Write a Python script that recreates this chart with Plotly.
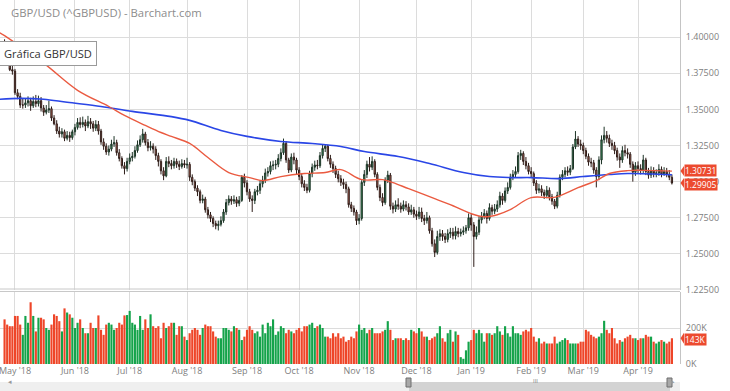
import pandas as pd
import plotly.graph_objects as go

# ---------------- data ----------------
first_open = 1.3960
close = [
    1.3935, 1.3925, 1.3775, 1.3765, 1.3615, 1.3590, 1.3530, 1.3530, 1.3545, 1.3560,
    1.3525, 1.3555, 1.3540, 1.3560, 1.3510, 1.3480, 1.3495, 1.3505, 1.3440, 1.3400,
    1.3350, 1.3330, 1.3345, 1.3300, 1.3320, 1.3305, 1.3345, 1.3375, 1.3410, 1.3395,
    1.3410, 1.3385, 1.3415, 1.3400, 1.3370, 1.3395, 1.3350, 1.3275, 1.3245, 1.3205,
    1.3225, 1.3260, 1.3270, 1.3200, 1.3160, 1.3110, 1.3090, 1.3140, 1.3165, 1.3175,
    1.3215, 1.3255, 1.3290, 1.3330, 1.3270, 1.3235, 1.3245, 1.3225, 1.3180, 1.3140,
    1.3075, 1.3040, 1.3140, 1.3125, 1.3110, 1.3140, 1.3120, 1.3105, 1.3125, 1.3115,
    1.3120, 1.3030, 1.3000, 1.2955, 1.2930, 1.2870, 1.2880, 1.2805, 1.2770, 1.2745,
    1.2710, 1.2695, 1.2705, 1.2730, 1.2790, 1.2855, 1.2880, 1.2865, 1.2875, 1.2850,
    1.2870, 1.3030, 1.2990, 1.2930, 1.2880, 1.2870, 1.2930, 1.2940, 1.2985, 1.3010,
    1.3060, 1.3070, 1.3110, 1.3115, 1.3120, 1.3160, 1.3200, 1.3265, 1.3150, 1.3080,
    1.3170, 1.3150, 1.3080, 1.3035, 1.2985, 1.2960, 1.2940, 1.3055, 1.3100, 1.3115,
    1.3110, 1.3180, 1.3230, 1.3245, 1.3160, 1.3120, 1.3090, 1.3050, 1.3020, 1.2995,
    1.2980, 1.2950, 1.2840, 1.2815, 1.2790, 1.2730, 1.2745, 1.2995, 1.3050, 1.3120,
    1.3100, 1.3140, 1.3050, 1.2960, 1.2890, 1.2855, 1.3010, 1.3045, 1.2830, 1.2810,
    1.2840, 1.2830, 1.2810, 1.2840, 1.2825, 1.2790, 1.2805, 1.2775, 1.2760, 1.2790,
    1.2745, 1.2730, 1.2750, 1.2660, 1.2570, 1.2510, 1.2620, 1.2640, 1.2620, 1.2600,
    1.2640, 1.2650, 1.2625, 1.2655, 1.2640, 1.2650, 1.2660, 1.2680, 1.2750, 1.2700,
    1.2620, 1.2650, 1.2735, 1.2760, 1.2780, 1.2745, 1.2820, 1.2795, 1.2810, 1.2840,
    1.2900, 1.2870, 1.2935, 1.2960, 1.3030, 1.3050, 1.3070, 1.3180, 1.3195, 1.3140,
    1.3110, 1.3070, 1.3055, 1.2990, 1.2940, 1.2950, 1.2925, 1.2905, 1.2940, 1.2895,
    1.2865, 1.2830, 1.2905, 1.3030, 1.3050, 1.3075, 1.3065, 1.3090, 1.3240, 1.3295,
    1.3260, 1.3250, 1.3215, 1.3175, 1.3135, 1.3130, 1.3080, 1.3035, 1.3150, 1.3290,
    1.3320, 1.3300, 1.3265, 1.3250, 1.3215, 1.3170, 1.3150, 1.3215, 1.3200, 1.3190,
    1.3120, 1.3065, 1.3110, 1.3090, 1.3080, 1.3150, 1.3070, 1.3045, 1.3075, 1.3055,
    1.3060, 1.3085, 1.3050, 1.3070, 1.3050, 1.3030, 1.29905,
]
high = [
    1.3985, 1.3960, 1.3935, 1.3800, 1.3780, 1.3640, 1.3615, 1.3575, 1.3575, 1.3590,
    1.3580, 1.3590, 1.3600, 1.3595, 1.3585, 1.3530, 1.3530, 1.3560, 1.3520, 1.3460,
    1.3425, 1.3380, 1.3370, 1.3360, 1.3350, 1.3345, 1.3360, 1.3400, 1.3440, 1.3445,
    1.3450, 1.3430, 1.3455, 1.3440, 1.3420, 1.3425, 1.3420, 1.3365, 1.3300, 1.3265,
    1.3250, 1.3290, 1.3315, 1.3290, 1.3225, 1.3175, 1.3135, 1.3165, 1.3195, 1.3205,
    1.3245, 1.3285, 1.3320, 1.3365, 1.3345, 1.3295, 1.3280, 1.3265, 1.3245, 1.3200,
    1.3155, 1.3100, 1.3170, 1.3175, 1.3150, 1.3165, 1.3160, 1.3145, 1.3155, 1.3150,
    1.3165, 1.3135, 1.3050, 1.3015, 1.2975, 1.2945, 1.2910, 1.2895, 1.2825, 1.2790,
    1.2760, 1.2730, 1.2730, 1.2760, 1.2810, 1.2880, 1.2905, 1.2900, 1.2905, 1.2895,
    1.2900, 1.3045, 1.3055, 1.3010, 1.2950, 1.2905, 1.2950, 1.2970, 1.3010, 1.3040,
    1.3090, 1.3100, 1.3140, 1.3145, 1.3150, 1.3190, 1.3230, 1.3298, 1.3280, 1.3165,
    1.3195, 1.3200, 1.3165, 1.3100, 1.3060, 1.3010, 1.2985, 1.3075, 1.3125, 1.3145,
    1.3150, 1.3205, 1.3255, 1.3260, 1.3255, 1.3185, 1.3140, 1.3110, 1.3075, 1.3045,
    1.3020, 1.3000, 1.2965, 1.2860, 1.2835, 1.2805, 1.2775, 1.3010, 1.3080, 1.3145,
    1.3170, 1.3175, 1.3155, 1.3065, 1.2980, 1.2920, 1.3030, 1.3075, 1.3060, 1.2855,
    1.2870, 1.2885, 1.2855, 1.2870, 1.2865, 1.2850, 1.2840, 1.2825, 1.2800, 1.2825,
    1.2820, 1.2770, 1.2790, 1.2765, 1.2680, 1.2600, 1.2660, 1.2670, 1.2665, 1.2645,
    1.2670, 1.2680, 1.2680, 1.2690, 1.2680, 1.2675, 1.2690, 1.2700, 1.2780, 1.2775,
    1.2720, 1.2690, 1.2760, 1.2790, 1.2810, 1.2800, 1.2850, 1.2840, 1.2845, 1.2870,
    1.2930, 1.2920, 1.2960, 1.2995, 1.3055, 1.3080, 1.3105, 1.3205, 1.3220, 1.3210,
    1.3170, 1.3130, 1.3100, 1.3070, 1.3010, 1.2985, 1.2975, 1.2945, 1.2970, 1.2960,
    1.2915, 1.2880, 1.2930, 1.3050, 1.3080, 1.3100, 1.3105, 1.3115, 1.3260, 1.3350,
    1.3315, 1.3290, 1.3270, 1.3235, 1.3195, 1.3165, 1.3150, 1.3100, 1.3175, 1.3320,
    1.3380, 1.3350, 1.3325, 1.3290, 1.3275, 1.3235, 1.3195, 1.3245, 1.3255, 1.3230,
    1.3205, 1.3140, 1.3135, 1.3140, 1.3120, 1.3185, 1.3165, 1.3095, 1.3105, 1.3100,
    1.3085, 1.3120, 1.3105, 1.3100, 1.3095, 1.3080, 1.3050,
]
low = [
    1.3915, 1.3900, 1.3765, 1.3740, 1.3600, 1.3570, 1.3510, 1.3505, 1.3510, 1.3520,
    1.3490, 1.3510, 1.3515, 1.3520, 1.3485, 1.3455, 1.3465, 1.3475, 1.3420, 1.3390,
    1.3330, 1.3305, 1.3305, 1.3280, 1.3285, 1.3275, 1.3290, 1.3320, 1.3360, 1.3370,
    1.3375, 1.3350, 1.3370, 1.3365, 1.3345, 1.3350, 1.3325, 1.3255, 1.3220, 1.3185,
    1.3180, 1.3210, 1.3240, 1.3180, 1.3140, 1.3090, 1.3050, 1.3070, 1.3120, 1.3140,
    1.3160, 1.3200, 1.3240, 1.3270, 1.3250, 1.3210, 1.3215, 1.3195, 1.3150, 1.3105,
    1.3050, 1.3010, 1.3030, 1.3100, 1.3085, 1.3090, 1.3095, 1.3080, 1.3090, 1.3095,
    1.3090, 1.3005, 1.2975, 1.2935, 1.2900, 1.2850, 1.2850, 1.2785, 1.2745, 1.2720,
    1.2685, 1.2670, 1.2662, 1.2690, 1.2715, 1.2770, 1.2835, 1.2840, 1.2845, 1.2825,
    1.2830, 1.2860, 1.2960, 1.2905, 1.2860, 1.2790, 1.2845, 1.2905, 1.2915, 1.2960,
    1.2990, 1.3035, 1.3050, 1.3080, 1.3085, 1.3100, 1.3140, 1.3185, 1.3130, 1.3060,
    1.3065, 1.3120, 1.3050, 1.3010, 1.2960, 1.2935, 1.2920, 1.2925, 1.3030, 1.3075,
    1.3085, 1.3095, 1.3160, 1.3205, 1.3140, 1.3095, 1.3060, 1.3025, 1.2995, 1.2970,
    1.2950, 1.2920, 1.2820, 1.2790, 1.2765, 1.2700, 1.2705, 1.2730, 1.2970, 1.3025,
    1.3070, 1.3080, 1.3030, 1.2940, 1.2865, 1.2830, 1.2840, 1.2990, 1.2805, 1.2780,
    1.2790, 1.2805, 1.2785, 1.2795, 1.2800, 1.2770, 1.2770, 1.2750, 1.2735, 1.2740,
    1.2720, 1.2700, 1.2710, 1.2640, 1.2550, 1.2478, 1.2495, 1.2590, 1.2590, 1.2575,
    1.2580, 1.2610, 1.2600, 1.2600, 1.2615, 1.2620, 1.2630, 1.2640, 1.2660, 1.2660,
    1.2410, 1.2600, 1.2630, 1.2710, 1.2740, 1.2710, 1.2730, 1.2770, 1.2775, 1.2790,
    1.2820, 1.2840, 1.2855, 1.2915, 1.2945, 1.3010, 1.3030, 1.3055, 1.3150, 1.3115,
    1.3085, 1.3050, 1.3030, 1.2970, 1.2915, 1.2920, 1.2900, 1.2880, 1.2885, 1.2870,
    1.2840, 1.2810, 1.2815, 1.2890, 1.3010, 1.3030, 1.3040, 1.3045, 1.3080, 1.3225,
    1.3240, 1.3220, 1.3190, 1.3155, 1.3110, 1.3100, 1.3055, 1.2960, 1.3010, 1.3120,
    1.3265, 1.3270, 1.3240, 1.3220, 1.3190, 1.3145, 1.3095, 1.3130, 1.3175, 1.3160,
    1.3095, 1.3000, 1.3040, 1.3060, 1.3050, 1.3060, 1.3045, 1.3020, 1.3025, 1.3030,
    1.3030, 1.3040, 1.3030, 1.3040, 1.3030, 1.3010, 1.2980,
]
volume_k = [
    248, 219, 210, 210, 267, 267, 219, 162, 267, 229,
    343, 267, 181, 257, 257, 248, 200, 190, 219, 276,
    267, 238, 181, 309, 286, 276, 257, 200, 229, 248,
    200, 171, 171, 229, 200, 200, 270, 190, 162, 219,
    229, 219, 190, 200, 229, 219, 270, 272, 295, 229,
    219, 190, 267, 190, 248, 200, 276, 210, 200, 210,
    143, 229, 200, 210, 229, 229, 162, 210, 210, 152,
    133, 171, 190, 200, 190, 162, 200, 219, 210, 210,
    181, 152, 143, 143, 200, 200, 190, 181, 210, 200,
    190, 133, 152, 190, 210, 190, 171, 181, 152, 219,
    171, 229, 210, 248, 162, 181, 210, 200, 171, 190,
    181, 171, 190, 200, 181, 210, 210, 219, 229, 200,
    210, 219, 200, 152, 152, 143, 171, 152, 171, 143,
    152, 124, 133, 152, 143, 181, 219, 190, 200, 171,
    190, 200, 171, 171, 171, 181, 190, 238, 190, 133,
    143, 143, 143, 133, 143, 133, 190, 181, 171, 200,
    181, 152, 152, 133, 143, 152, 171, 210, 143, 124,
    171, 190, 124, 181, 162, 38, 29, 76, 124, 133,
    190, 171, 190, 171, 124, 171, 171, 162, 171, 210,
    181, 162, 210, 171, 152, 210, 171, 171, 162, 181,
    190, 181, 200, 152, 124, 143, 114, 124, 114, 114,
    114, 152, 114, 124, 133, 143, 133, 114, 114, 114,
    114, 124, 124, 190, 181, 162, 152, 143, 152, 171,
    240, 190, 171, 200, 143, 114, 133, 124, 143, 152,
    162, 143, 143, 133, 143, 143, 162, 152, 152, 124,
    114, 124, 133, 124, 114, 124, 143,
]

# moving averages (bar index, value)
ma50_idx = [-1.8, 0, 15, 28, 40, 46, 54, 60, 64, 71, 78, 86, 94, 99, 106, 115, 123, 129,
            137, 145, 149, 155, 164, 172, 179, 184, 189, 194, 202, 210, 213, 220, 227,
            232, 239, 245, 256]
ma50_val = [1.4030, 1.4010, 1.3820, 1.3632, 1.3520, 1.3458, 1.3389, 1.3340, 1.3313,
            1.3264, 1.3167, 1.3063, 1.3028, 1.3007, 1.3035, 1.3056, 1.3063, 1.3083,
            1.3014, 1.3014, 1.2993, 1.2951, 1.2889, 1.2833, 1.2778, 1.2757, 1.2771,
            1.2806, 1.2889, 1.2889, 1.2903, 1.2958, 1.3007, 1.3056, 1.3076, 1.3078, 1.3073]
ma200_idx = [-1.8, 6, 15, 24, 37, 49, 64, 71, 83, 93, 106, 118, 129, 138, 151, 163, 176,
             186, 194, 202, 213, 222, 232, 239, 256]
ma200_val = [1.3570, 1.3576, 1.3570, 1.3549, 1.3520, 1.3486, 1.3450, 1.3424, 1.3354,
             1.3313, 1.3278, 1.3264, 1.3243, 1.3208, 1.3174, 1.3125, 1.3063, 1.3035,
             1.3028, 1.3028, 1.3021, 1.3035, 1.3049, 1.3056, 1.3048]

price_ticks = [1.225, 1.25, 1.275, 1.30, 1.325, 1.35, 1.375, 1.40]
volume_ticks = [0, 200]
volume_tick_text = ["0K", "200K"]
month_labels = ["May '18", "Jun '18", "Jul '18", "Aug '18", "Sep '18", "Oct '18",
                "Nov '18", "Dec '18", "Jan '19", "Feb '19", "Mar '19", "Apr '19"]
ma50_last = 1.30731
last_price = 1.29905
last_volume_text = "143K"
title_text = "GBP/USD (^GBPUSD) - Barchart.com"
tooltip_text = "Gráfica GBP/USD"

n = len(close)
assert len(high) == n and len(low) == n and len(volume_k) == n, (n, len(high), len(low), len(volume_k))

dates = pd.bdate_range("2018-04-25", periods=n)
idx = list(range(n))
opens = [first_open] + close[:-1]

# first trading bar of each month -> tick position
month_pos = []
seen = set()
for i, d in enumerate(dates):
    key = (d.year, d.month)
    if key not in seen:
        seen.add(key)
        if i > 0:
            month_pos.append(i)
month_pos = month_pos[:len(month_labels)]

UP_VOL = "#14a34a"
DN_VOL = "#ee4528"
vol_colors = [UP_VOL if c >= o else DN_VOL for o, c in zip(opens, close)]

# ---------------- geometry helpers (layout only) ----------------
W, H = 730, 391
ML, MR, MT, MB = 0, 50, 0, 27
PW, PH = W - ML - MR, H - MT - MB


def px(x):
    return (x - ML) / PW


def py(y):
    return 1 - (y - MT) / PH


FONT = "Open Sans, Arial, sans-serif"
GRID = "#dcdcdc"
TXT = "#808080"
LABEL_RED = "#ec4a2f"

fig = go.Figure()
fig.add_trace(go.Candlestick(
    x=idx, open=opens, high=high, low=low, close=close,
    xaxis="x", yaxis="y",
    increasing=dict(line=dict(color="#1d3326", width=1), fillcolor="#3f9c63"),
    decreasing=dict(line=dict(color="#2d1c18", width=1), fillcolor="#c8715f"),
    whiskerwidth=0, showlegend=False, hoverinfo="skip",
))
fig.add_trace(go.Scatter(x=ma200_idx, y=ma200_val, mode="lines", xaxis="x", yaxis="y",
                         line=dict(color="#2a46e6", width=1.6, shape="spline"),
                         showlegend=False, hoverinfo="skip"))
fig.add_trace(go.Scatter(x=ma50_idx, y=ma50_val, mode="lines", xaxis="x", yaxis="y",
                         line=dict(color="#ea5a40", width=1.4, shape="spline"),
                         showlegend=False, hoverinfo="skip"))
fig.add_trace(go.Bar(x=idx, y=volume_k, xaxis="x2", yaxis="y2",
                     marker=dict(color=vol_colors, line=dict(width=0)),
                     showlegend=False, hoverinfo="skip"))

xr = [-1.75, 259.1]
fig.update_layout(
    width=W, height=H, margin=dict(l=ML, r=MR, t=MT, b=MB),
    paper_bgcolor="white", plot_bgcolor="white",
    font=dict(family=FONT, size=9, color=TXT),
    bargap=0.18,
    xaxis=dict(domain=[0, 1], anchor="y", range=xr, showticklabels=False,
               tickvals=month_pos, showgrid=True, gridcolor=GRID, gridwidth=1,
               zeroline=False, rangeslider=dict(visible=False), fixedrange=True),
    xaxis2=dict(domain=[0, 1], anchor="y2", range=xr, matches="x",
                tickvals=month_pos, ticktext=month_labels, showgrid=True,
                gridcolor=GRID, gridwidth=1, zeroline=False,
                tickfont=dict(size=9, color=TXT), ticks="", ticklen=0,
                ticklabeloverflow="allow"),
    yaxis=dict(domain=[py(290), 1], side="right", range=[1.225, 1.4 + 37 / 36 * 0.025],
               tickvals=price_ticks, ticktext=[f"{v:.5f}" for v in price_ticks],
               showgrid=True, gridcolor=GRID, zeroline=False,
               showline=True, linecolor="#c4c4c4", ticks="outside", ticklen=3,
               tickcolor="rgba(0,0,0,0)", tickfont=dict(size=9, color=TXT)),
    yaxis2=dict(domain=[0, py(292)], side="right", range=[0, 200 * (364 - 292) / 36],
                tickvals=volume_ticks, ticktext=volume_tick_text,
                showgrid=True, gridcolor=GRID, zeroline=False,
                showline=True, linecolor="#c4c4c4", ticks="outside", ticklen=3,
                tickcolor="rgba(0,0,0,0)", tickfont=dict(size=9, color=TXT)),
)

shapes = [
    # panel separators
    dict(type="line", xref="paper", yref="paper", x0=0, x1=1, y0=py(289), y1=py(289),
         line=dict(color="#c8c8c8", width=1)),
    dict(type="line", xref="paper", yref="paper", x0=0, x1=1, y0=py(291.5), y1=py(291.5),
         line=dict(color="#c8c8c8", width=1)),
    # scrollbar
    dict(type="rect", xref="paper", yref="paper", x0=px(0), x1=px(680), y0=py(382), y1=py(391),
         fillcolor="#efefef", line=dict(width=0), layer="above"),
    dict(type="rect", xref="paper", yref="paper", x0=px(409), x1=px(670), y0=py(382), y1=py(391),
         fillcolor="#d3d3d3", line=dict(width=0), layer="above"),
    dict(type="rect", xref="paper", yref="paper", x0=px(406), x1=px(411), y0=py(378), y1=py(387),
         fillcolor="#a8a8a8", line=dict(color="#6f6f6f", width=1), layer="above"),
    dict(type="rect", xref="paper", yref="paper", x0=px(667), x1=px(672), y0=py(378), y1=py(387),
         fillcolor="#a8a8a8", line=dict(color="#6f6f6f", width=1), layer="above"),
    # tooltip shadow
    dict(type="rect", xref="paper", yref="paper", x0=px(2), x1=px(97), y0=py(66), y1=py(45),
         fillcolor="rgba(0,0,0,0.12)", line=dict(width=0), layer="above"),
]


def pointer(yref, yval, half, shift_px=0.0):
    # small left-pointing tip of the last-value label
    return dict(type="path", xref="paper", yref=yref, layer="above",
                path=f"M {px(680.5)},{yval} L {px(684)},{yval + half} L {px(684)},{yval - half} Z",
                fillcolor=LABEL_RED, line=dict(width=0))


shapes += [pointer("y", ma50_last, 0.0035), pointer("y", last_price, 0.0035),
           pointer("y2", volume_k[-1], 30)]

annotations = [
    dict(text=title_text, xref="paper", yref="paper", x=px(9), y=py(13), xanchor="left",
         yanchor="middle", showarrow=False, font=dict(size=11.3, color="#8c8c8c")),
    dict(text=tooltip_text, xref="paper", yref="paper", x=px(-1), y=py(53), xanchor="left",
         yanchor="middle", showarrow=False, bgcolor="white", bordercolor="#9a9a9a",
         borderwidth=1, borderpad=4, font=dict(size=11.1, color="#333333")),
    dict(text=f"{ma50_last:.5f}", xref="paper", yref="y", x=px(684), y=ma50_last,
         xanchor="left", yanchor="middle", showarrow=False, bgcolor=LABEL_RED,
         borderpad=0, yshift=1, font=dict(size=8.5, color="white")),
    dict(text=f"{last_price:.5f}", xref="paper", yref="y", x=px(684), y=last_price,
         xanchor="left", yanchor="middle", showarrow=False, bgcolor=LABEL_RED,
         borderpad=0, yshift=-1, font=dict(size=8.5, color="white")),
    dict(text=last_volume_text, xref="paper", yref="y2", x=px(684), y=volume_k[-1],
         xanchor="left", yanchor="middle", showarrow=False, bgcolor=LABEL_RED,
         borderpad=0, yshift=-1, font=dict(size=8.5, color="white")),
    dict(text="III", xref="paper", yref="paper", x=px(540), y=py(386.5), showarrow=False,
         font=dict(size=6, color="#777777")),
    dict(text="◂", xref="paper", yref="paper", x=px(6), y=py(387.5), showarrow=False,
         font=dict(size=7, color="#999999")),
    dict(text="▸", xref="paper", yref="paper", x=px(677), y=py(387.5), showarrow=False,
         font=dict(size=7, color="#999999")),
]
fig.update_layout(shapes=shapes, annotations=annotations)

fig.write_html(
    "out.html",
    config={"displayModeBar": False},
    post_script="document.body.style.margin='0';document.body.style.overflow='hidden';",
)
